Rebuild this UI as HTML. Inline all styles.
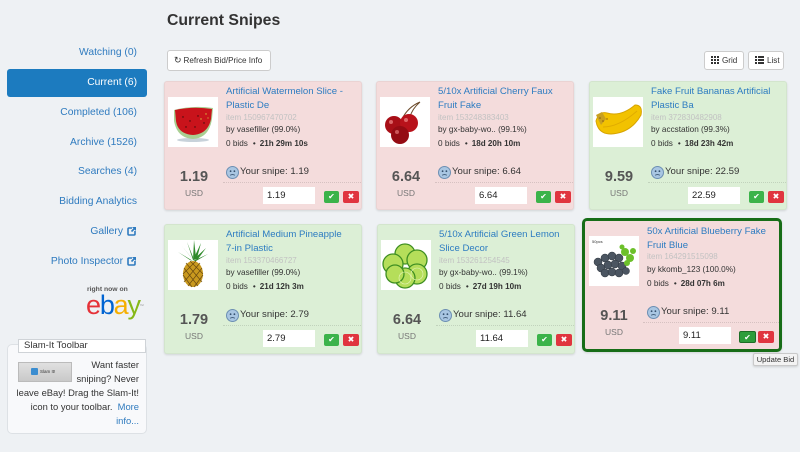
<!DOCTYPE html>
<html><head><meta charset="utf-8">
<style>
*{margin:0;padding:0;box-sizing:border-box}
html,body{width:800px;height:452px;overflow:hidden;background:#eef1f4;font-family:"Liberation Sans",Arial,sans-serif;color:#333}
.a{position:absolute;white-space:nowrap}
.nav{position:absolute;right:663px;font-size:10.3px;color:#2f7bbf;line-height:14px;white-space:nowrap}
.card{position:absolute;width:198px;height:129px;border-radius:3px;box-shadow:0 1px 2px rgba(0,0,0,.12);border:1px solid rgba(0,0,0,.04)}
.pk{background:#f4dcdc}
.gr{background:#dcefd6}
.card>div{position:absolute;white-space:nowrap}
.img{left:3px;top:15px;width:50px;height:50px;background:#fff}
.t{left:61px;top:3px;font-size:9.6px;line-height:14px;color:#2d7cc1;white-space:normal!important;width:124px}
.it{left:61px;top:31px;font-size:8px;line-height:10px;color:#c2c2c2}
.by{left:61px;top:43px;font-size:8.2px;line-height:10px;color:#333}
.bd{left:61px;top:57px;font-size:8.2px;line-height:10px;color:#333}
.bd i{font-style:normal;margin:0 4px 0 5px}
.bd b{font-size:8.1px}
.fc{left:61px;top:84px;width:13px;height:13px}
.sn{left:75px;top:84px;font-size:9.6px;line-height:12px;color:#333}
.sep{left:58px;right:0;top:100px;border-top:1px dotted rgba(0,0,0,.12)}
.pr{left:0;width:58px;text-align:center;top:87px;font-size:14.5px;line-height:16px;font-weight:bold;color:#555}
.usd{left:0;width:58px;text-align:center;top:106px;font-size:8.5px;line-height:10px;color:#777}
.in{right:46px;top:105px;width:52px;height:17px;background:#fff;font-size:9.5px;line-height:17px;padding-left:4px;color:#222}
.ok{right:22px;top:109px;width:15px;height:12px;background:#3bb34a;border-radius:2px;color:#fff;font-size:8px;line-height:12px;text-align:center}
.no{right:2px;top:109px;width:16px;height:12px;background:#e0353f;border-radius:2px;color:#fff;font-size:8px;line-height:12px;text-align:center}
.btn{position:absolute;background:#fff;border:1px solid #ccc;border-radius:3px;font-size:8.1px;color:#333;white-space:nowrap}
</style></head><body>

<!-- sidebar -->
<div class="nav" style="top:46px">Watching (0)</div>
<div class="a" style="left:7px;top:69px;width:140px;height:28px;background:#1c7bbf;border-radius:3px"></div>
<div class="nav" style="top:76px;color:#fff">Current (6)</div>
<div class="nav" style="top:106px">Completed (106)</div>
<div class="nav" style="top:136px">Archive (1526)</div>
<div class="nav" style="top:165px">Searches (4)</div>
<div class="nav" style="top:195px">Bidding Analytics</div>
<div class="nav" style="top:225px;right:677px">Gallery</div>
<svg class="a" style="left:127px;top:226px" width="10" height="10" viewBox="0 0 10 10"><path d="M5,2 H2 Q1,2 1,3 V8 Q1,9 2,9 H7 Q8,9 8,8 V5" fill="none" stroke="#2f7bbf" stroke-width="1.6"/><path d="M5,1 H9 V5 Z" fill="#2f7bbf"/><path d="M8.5,1.5 L4.5,5.5" stroke="#2f7bbf" stroke-width="1.6"/></svg>
<div class="nav" style="top:255px;right:677px">Photo Inspector</div>
<svg class="a" style="left:127px;top:256px" width="10" height="10" viewBox="0 0 10 10"><path d="M5,2 H2 Q1,2 1,3 V8 Q1,9 2,9 H7 Q8,9 8,8 V5" fill="none" stroke="#2f7bbf" stroke-width="1.6"/><path d="M5,1 H9 V5 Z" fill="#2f7bbf"/><path d="M8.5,1.5 L4.5,5.5" stroke="#2f7bbf" stroke-width="1.6"/></svg>

<div class="a" style="left:87px;top:286px;font-size:6.8px;font-weight:bold;color:#555;line-height:8px">right now on</div>
<div class="a" style="left:86px;top:292px;font-size:27px;line-height:27px;letter-spacing:-1.2px"><span style="color:#e53238">e</span><span style="color:#0064d2">b</span><span style="color:#f5af02">a</span><span style="color:#86b817">y</span><span style="font-size:4px;color:#888;vertical-align:top;letter-spacing:0">™</span></div>

<!-- slam-it box -->
<div class="a" style="left:7px;top:344px;width:140px;height:90px;background:#f8f9fb;border:1px solid #dde1e5;border-radius:5px"></div>
<div class="a" style="left:18px;top:339px;width:128px;height:14px;background:#fff;border:1px solid #cfd3d7;font-size:9.5px;line-height:12px;padding-left:5px">Slam-It Toolbar</div>
<div class="a" style="left:18px;top:362px;width:54px;height:20px;background:linear-gradient(#e0e0e0,#c9c9c9);border:1px solid #bbb"></div>
<div class="a" style="left:31px;top:368px;width:7px;height:7px;background:#3b8dd0;border-radius:1px"></div>
<div class="a" style="left:40px;top:368px;font-size:4.5px;line-height:7px;color:#333">Slam It!</div>
<div class="a" style="right:661px;top:359px;font-size:9.4px;line-height:12px;text-align:right">Want faster</div>
<div class="a" style="right:661px;top:373px;font-size:9.4px;line-height:12px;text-align:right">sniping? Never</div>
<div class="a" style="right:661px;top:387px;font-size:9.4px;line-height:12px;text-align:right">leave eBay! Drag the Slam-It!</div>
<div class="a" style="right:661px;top:401px;font-size:9.4px;line-height:12px;text-align:right">icon to your toolbar. &nbsp;<span style="color:#2f7bbf">More</span></div>
<div class="a" style="right:661px;top:415px;font-size:9.4px;line-height:12px;text-align:right;color:#2f7bbf">info...</div>

<!-- header -->
<div class="a" style="left:167px;top:11px;font-size:15.8px;line-height:20px;font-weight:bold;color:#333">Current Snipes</div>
<div class="btn" style="left:167px;top:50px;width:104px;height:21px;line-height:19px;padding-left:6px"><span style="font-size:9px;margin-right:2px">↻</span>Refresh Bid/Price Info</div>
<div class="btn" style="left:704px;top:51px;width:40px;height:19px;line-height:17px;padding-left:6px"><svg width="8" height="8" style="vertical-align:-1px;margin-right:3px"><g fill="#333"><rect x="0" y="0" width="2" height="2"/><rect x="3" y="0" width="2" height="2"/><rect x="6" y="0" width="2" height="2"/><rect x="0" y="3" width="2" height="2"/><rect x="3" y="3" width="2" height="2"/><rect x="6" y="3" width="2" height="2"/><rect x="0" y="6" width="2" height="2"/><rect x="3" y="6" width="2" height="2"/><rect x="6" y="6" width="2" height="2"/></g></svg>Grid</div>
<div class="btn" style="left:748px;top:51px;width:36px;height:19px;line-height:17px;padding-left:6px"><svg width="9" height="8" style="vertical-align:-1px;margin-right:3px"><g fill="#333"><rect x="0" y="0" width="2" height="2"/><rect x="3" y="0" width="6" height="2"/><rect x="0" y="3" width="2" height="2"/><rect x="3" y="3" width="6" height="2"/><rect x="0" y="6" width="2" height="2"/><rect x="3" y="6" width="6" height="2"/></g></svg>List</div>

<!-- Card 1 -->
<div class="card pk" style="left:164px;top:81px">
 <div class="img"><svg width="50" height="50"><ellipse cx="25" cy="43" rx="16" ry="2" fill="#c8d2da"/><path d="M6,13 Q25,8 45,11 L44,22 Q41,41 25,42 Q9,41 6,24 Z" fill="#a9cf92"/><path d="M7,13 Q25,9 44,12 L43,22 Q40,37 25,38 Q10,37 8,24 Z" fill="#c9131b"/><g fill="#3a0a0a"><circle cx="15" cy="20" r=".7"/><circle cx="22" cy="24" r=".7"/><circle cx="30" cy="19" r=".7"/><circle cx="36" cy="26" r=".7"/><circle cx="18" cy="30" r=".7"/><circle cx="27" cy="30" r=".7"/></g><g fill="#d8c040"><circle cx="38" cy="17" r=".7"/><circle cx="33" cy="22" r=".7"/><circle cx="40" cy="21" r=".6"/></g></svg></div>
 <div class="t">Artificial Watermelon Slice - Plastic De</div>
 <div class="it">item 150967470702</div>
 <div class="by">by vasefiller (99.0%)</div>
 <div class="bd">0 bids<i>•</i><b>21h 29m 10s</b></div>
 <div class="fc"><svg width="13" height="13"><circle cx="6.5" cy="6.5" r="6" fill="#a9c6e2" stroke="#6c8fb3"/><circle cx="4.6" cy="5.2" r=".9" fill="#34506e"/><circle cx="8.4" cy="5.2" r=".9" fill="#34506e"/><path d="M4.2,9.3 Q6.5,7.8 8.8,9.3" fill="none" stroke="#34506e" stroke-width=".9"/></svg></div>
 <div class="sn">Your snipe: 1.19</div>
 <div class="sep"></div>
 <div class="pr">1.19</div>
 <div class="usd">USD</div>
 <div class="in">1.19</div>
 <div class="ok">✔</div>
 <div class="no">✖</div>
</div>

<!-- Card 2 -->
<div class="card pk" style="left:376px;top:81px">
 <div class="img"><svg width="50" height="50"><path d="M22,22 Q28,10 40,5 M30,20 Q32,12 40,5" fill="none" stroke="#6b4a2a" stroke-width="1"/><circle cx="14" cy="28" r="9" fill="#a80f17"/><circle cx="29" cy="26" r="9" fill="#b8121b"/><circle cx="20" cy="38" r="9" fill="#940b13"/><circle cx="11" cy="25" r="2" fill="#f08a8a" opacity=".7"/><circle cx="26" cy="23" r="2" fill="#f08a8a" opacity=".7"/><circle cx="17" cy="35" r="2" fill="#f08a8a" opacity=".6"/></svg></div>
 <div class="t">5/10x Artificial Cherry Faux Fruit Fake</div>
 <div class="it">item 153248383403</div>
 <div class="by">by gx-baby-wo.. (99.1%)</div>
 <div class="bd">0 bids<i>•</i><b>18d 20h 10m</b></div>
 <div class="fc"><svg width="13" height="13"><circle cx="6.5" cy="6.5" r="6" fill="#a9c6e2" stroke="#6c8fb3"/><circle cx="4.6" cy="5.2" r=".9" fill="#34506e"/><circle cx="8.4" cy="5.2" r=".9" fill="#34506e"/><path d="M4.2,9.3 Q6.5,7.8 8.8,9.3" fill="none" stroke="#34506e" stroke-width=".9"/></svg></div>
 <div class="sn">Your snipe: 6.64</div>
 <div class="sep"></div>
 <div class="pr">6.64</div>
 <div class="usd">USD</div>
 <div class="in">6.64</div>
 <div class="ok">✔</div>
 <div class="no">✖</div>
</div>

<!-- Card 3 -->
<div class="card gr" style="left:589px;top:81px">
 <div class="img"><svg width="50" height="50"><path d="M3,24 Q6,14 14,16 Q28,20 42,8 Q50,8 48,18 Q38,36 18,37 Q5,37 3,24 Z" fill="#f2c200" stroke="#d7a400" stroke-width="1"/><path d="M10,30 Q26,30 44,14" fill="none" stroke="#e0ab00" stroke-width="1"/><path d="M3,18 L9,15 L13,22 L8,28 Z" fill="#c8a020"/><g fill="#8a5a10"><circle cx="7" cy="21" r=".8"/><circle cx="10" cy="24" r=".8"/><circle cx="14" cy="22" r=".7"/></g></svg></div>
 <div class="t">Fake Fruit Bananas Artificial Plastic Ba</div>
 <div class="it">item 372830482908</div>
 <div class="by">by accstation (99.3%)</div>
 <div class="bd">0 bids<i>•</i><b>18d 23h 42m</b></div>
 <div class="fc"><svg width="13" height="13"><circle cx="6.5" cy="6.5" r="6" fill="#a9c6e2" stroke="#6c8fb3"/><circle cx="4.6" cy="5.2" r=".9" fill="#34506e"/><circle cx="8.4" cy="5.2" r=".9" fill="#34506e"/><path d="M4.2,9.3 Q6.5,7.8 8.8,9.3" fill="none" stroke="#34506e" stroke-width=".9"/></svg></div>
 <div class="sn">Your snipe: 22.59</div>
 <div class="sep"></div>
 <div class="pr">9.59</div>
 <div class="usd">USD</div>
 <div class="in">22.59</div>
 <div class="ok">✔</div>
 <div class="no">✖</div>
</div>

<!-- Card 4 -->
<div class="card gr" style="left:164px;top:224px;height:130px">
 <div class="img"><svg width="50" height="50"><g fill="#2f8a2a"><path d="M25,20 L14,6 L22,16 Z"/><path d="M25,20 L19,2 L25,17 Z"/><path d="M25,20 L26,0 L28,17 Z"/><path d="M25,20 L33,3 L29,18 Z"/><path d="M25,20 L38,8 L30,19 Z"/><path d="M25,21 L10,12 L22,20 Z"/><path d="M25,21 L40,14 L28,21 Z"/></g><ellipse cx="25" cy="34" rx="10" ry="13" fill="#c9991e"/><g stroke="#6a4a10" stroke-width=".7" fill="none"><path d="M16,28 L30,46 M18,23 L34,42 M22,21 L35,34 M15,35 L24,47"/><path d="M34,28 L20,46 M32,23 L16,42 M28,21 L15,34 M35,35 L26,47"/></g></svg></div>
 <div class="t">Artificial Medium Pineapple 7-in Plastic</div>
 <div class="it">item 153370466727</div>
 <div class="by">by vasefiller (99.0%)</div>
 <div class="bd">0 bids<i>•</i><b>21d 12h 3m</b></div>
 <div class="fc"><svg width="13" height="13"><circle cx="6.5" cy="6.5" r="6" fill="#a9c6e2" stroke="#6c8fb3"/><circle cx="4.6" cy="5.2" r=".9" fill="#34506e"/><circle cx="8.4" cy="5.2" r=".9" fill="#34506e"/><path d="M4.2,9.3 Q6.5,7.8 8.8,9.3" fill="none" stroke="#34506e" stroke-width=".9"/></svg></div>
 <div class="sn">Your snipe: 2.79</div>
 <div class="sep"></div>
 <div class="pr">1.79</div>
 <div class="usd">USD</div>
 <div class="in">2.79</div>
 <div class="ok">✔</div>
 <div class="no">✖</div>
</div>

<!-- Card 5 -->
<div class="card gr" style="left:377px;top:224px;height:130px">
 <div class="img"><svg width="50" height="50"><g fill="#b5de5a" stroke="#3f8f22" stroke-width="1.3"><circle cx="24" cy="14" r="10"/><circle cx="36" cy="20" r="10"/><circle cx="12" cy="24" r="10"/><circle cx="36" cy="34" r="10"/><circle cx="24" cy="38" r="10"/><circle cx="14" cy="34" r="9"/></g><g fill="none" stroke="#e8f5c0" stroke-width=".6"><circle cx="24" cy="38" r="6"/><circle cx="36" cy="34" r="6"/></g></svg></div>
 <div class="t">5/10x Artificial Green Lemon Slice Decor</div>
 <div class="it">item 153261254545</div>
 <div class="by">by gx-baby-wo.. (99.1%)</div>
 <div class="bd">0 bids<i>•</i><b>27d 19h 10m</b></div>
 <div class="fc"><svg width="13" height="13"><circle cx="6.5" cy="6.5" r="6" fill="#a9c6e2" stroke="#6c8fb3"/><circle cx="4.6" cy="5.2" r=".9" fill="#34506e"/><circle cx="8.4" cy="5.2" r=".9" fill="#34506e"/><path d="M4.2,9.3 Q6.5,7.8 8.8,9.3" fill="none" stroke="#34506e" stroke-width=".9"/></svg></div>
 <div class="sn">Your snipe: 11.64</div>
 <div class="sep"></div>
 <div class="pr">6.64</div>
 <div class="usd">USD</div>
 <div class="in">11.64</div>
 <div class="ok">✔</div>
 <div class="no">✖</div>
</div>

<!-- Card 6 (selected) -->
<div class="card pk" style="left:582px;top:218px;width:200px;height:134px;border:3px solid #176d17;border-radius:5px">
 <div class="img" style="left:4px;top:15px"><svg width="50" height="50"><text x="3" y="7" font-size="4" fill="#333" font-family="Liberation Sans, sans-serif">50pcs</text><g fill="#4b5561" stroke="#2d343c" stroke-width=".5"><circle cx="9" cy="26" r="4"/><circle cx="16" cy="22" r="4"/><circle cx="23" cy="20" r="4"/><circle cx="30" cy="22" r="4"/><circle cx="12" cy="32" r="4"/><circle cx="19" cy="29" r="4"/><circle cx="26" cy="28" r="4"/><circle cx="33" cy="30" r="4"/><circle cx="16" cy="37" r="4"/><circle cx="23" cy="36" r="4"/><circle cx="30" cy="37" r="4"/><circle cx="37" cy="35" r="3.5"/></g><g fill="#6cc02a"><circle cx="36" cy="16" r="4"/><circle cx="41" cy="22" r="4"/><circle cx="38" cy="27" r="3"/><circle cx="44" cy="15" r="3"/><circle cx="33" cy="11" r="2.5"/></g></svg></div>
 <div class="t" style="left:62px;top:4px">50x Artificial Blueberry Fake Fruit Blue</div>
 <div class="it" style="left:62px">item 164291515098</div>
 <div class="by" style="left:62px;top:44px">by kkomb_123 (100.0%)</div>
 <div class="bd" style="left:62px;top:58px">0 bids<i>•</i><b>28d 07h 6m</b></div>
 <div class="fc" style="left:62px;top:85px"><svg width="13" height="13"><circle cx="6.5" cy="6.5" r="6" fill="#a9c6e2" stroke="#6c8fb3"/><circle cx="4.6" cy="5.2" r=".9" fill="#34506e"/><circle cx="8.4" cy="5.2" r=".9" fill="#34506e"/><path d="M4.2,9.3 Q6.5,7.8 8.8,9.3" fill="none" stroke="#34506e" stroke-width=".9"/></svg></div>
 <div class="sn" style="left:76px;top:85px">Your snipe: 9.11</div>
 <div class="sep" style="top:101px"></div>
 <div class="pr" style="top:87px">9.11</div>
 <div class="usd" style="top:106px">USD</div>
 <div class="in" style="right:48px;top:106px">9.11</div>
 <div class="ok" style="right:23px;top:110px;width:17px;background:#2e9d3b;border:1px solid #1d6e26">✔</div>
 <div class="no" style="right:5px;top:110px">✖</div>
</div>

<!-- tooltip -->
<div class="a" style="left:753px;top:353px;width:45px;height:13px;background:#f3f3f3;border:1px solid #c9c9c9;border-radius:2px;box-shadow:0 1px 2px rgba(0,0,0,.15);font-size:7.6px;line-height:11px;text-align:center;color:#333">Update Bid</div>

</body></html>
